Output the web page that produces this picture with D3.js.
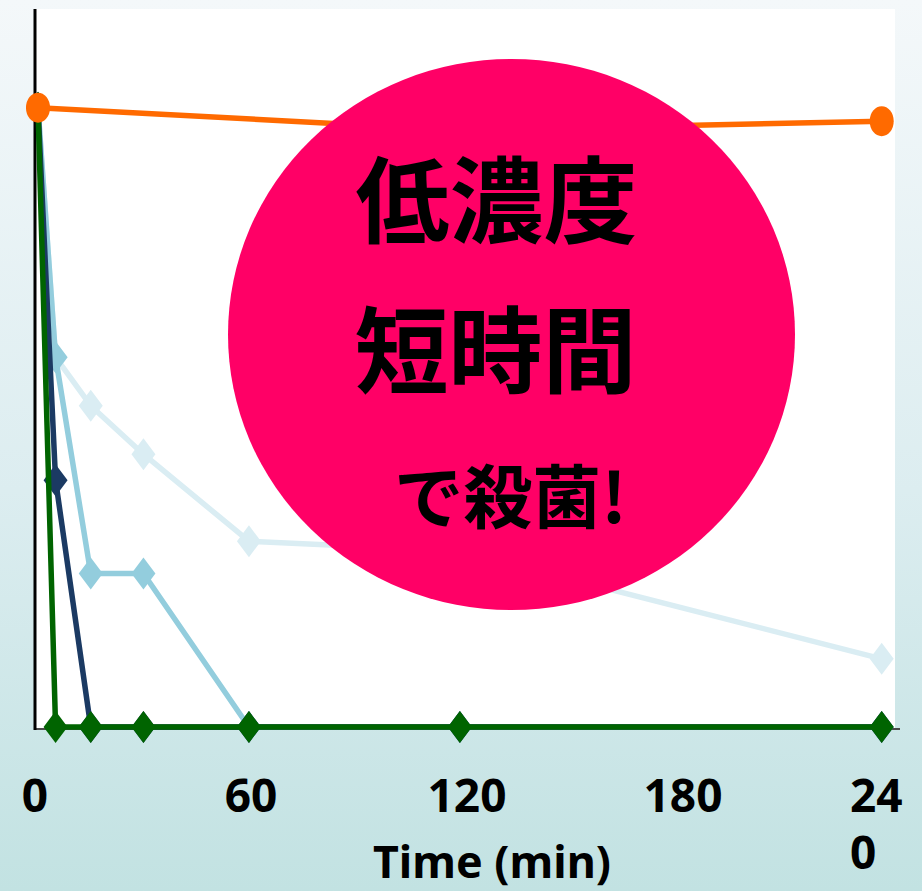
<!DOCTYPE html>
<html>
<head>
<meta charset="utf-8">
<script src="https://cdn.jsdelivr.net/npm/d3@7/dist/d3.min.js"></script>
<style>
  html, body { margin: 0; padding: 0; }
  body { width: 922px; height: 891px; overflow: hidden; }
</style>
</head>
<body>
<svg id="chart" width="922" height="891"></svg>
<script>
// ---- data (time in minutes, value in log units) ----
const xTicks = [0, 60, 120, 180, 240];
const xTickLabels = ["0", "60", "120", "180", "240"];
const xAxisTitle = "Time (min)";

const paleTimes   = [0, 5, 15, 30, 60, 120, 240];
const paleValues  = [6.90, 4.12, 3.58, 3.04, 2.07, 1.96, 0.76];

const mediumTimes  = [0, 5, 15, 30, 60, 120, 240];
const mediumValues = [6.90, 4.12, 1.71, 1.71, 0, 0, 0];

const navyTimes  = [0, 5, 15, 30, 60, 120, 240];
const navyValues = [6.90, 2.75, 0, 0, 0, 0, 0];

const greenTimes  = [0, 5, 15, 30, 60, 120, 240];
const greenValues = [6.90, 0, 0, 0, 0, 0, 0];

const orangeTimes  = [0, 120, 240];
const orangeValues = [6.90, 6.65, 6.75];

const bubbleLines = ["低濃度", "短時間", "で殺菌!"];

// ---- drawing ----
const svg = d3.select("#chart");
const W = 922, H = 891;

const defs = svg.append("defs");
const grad = defs.append("linearGradient").attr("id", "bg")
  .attr("x1", 0).attr("y1", 0).attr("x2", 0).attr("y2", 1);
grad.append("stop").attr("offset", "0%").attr("stop-color", "#f4f8fa");
grad.append("stop").attr("offset", "55%").attr("stop-color", "#dcedf0");
grad.append("stop").attr("offset", "100%").attr("stop-color", "#c2e2e2");

svg.append("rect").attr("width", W).attr("height", H).attr("fill", "url(#bg)");

const plot = { left: 36, right: 895, top: 9, bottom: 728 };
const x = d3.scaleLinear().domain([0, 240]).range([38, 881.7]);
const y = d3.scaleLinear().domain([0, 8]).range([727, 9]);

// plot area
svg.append("rect")
  .attr("x", plot.left).attr("y", plot.top)
  .attr("width", plot.right - plot.left).attr("height", plot.bottom - plot.top)
  .attr("fill", "#ffffff");

// axes lines
svg.append("line")
  .attr("x1", 35).attr("x2", 900).attr("y1", 729).attr("y2", 729)
  .attr("stroke", "#4a4a4a").attr("stroke-width", 2);
svg.append("line")
  .attr("x1", 35).attr("x2", 35).attr("y1", 9).attr("y2", 730)
  .attr("stroke", "#000").attr("stroke-width", 3);

const series = [
  { t: paleTimes, v: paleValues, color: "#daedf3", marker: "diamond" },
  { t: mediumTimes, v: mediumValues, color: "#93cddd", marker: "diamond" },
  { t: navyTimes, v: navyValues, color: "#1b3a63", marker: "diamond" },
  { t: greenTimes, v: greenValues, color: "#006400", marker: "diamond" },
  { t: orangeTimes, v: orangeValues, color: "#ff6a00", marker: "circle" }
];

const line = d3.line().x(d => x(d[0])).y(d => y(d[1]));

series.forEach(s => {
  const pts = s.t.map((t, i) => [t, s.v[i]]);
  const g = svg.append("g");
  g.append("path").datum(pts)
    .attr("d", line)
    .attr("fill", "none")
    .attr("stroke", s.color)
    .attr("stroke-width", 5.5)
    .attr("stroke-linejoin", "round");
  if (s.marker === "diamond") {
    g.selectAll("path.m").data(pts).enter().append("path")
      .attr("class", "m")
      .attr("d", d => {
        const cx = x(d[0]), cy = y(d[1]);
        return `M${cx},${cy - 16}L${cx + 12},${cy}L${cx},${cy + 16}L${cx - 12},${cy}Z`;
      })
      .attr("fill", s.color);
  } else {
    g.selectAll("ellipse").data(pts).enter().append("ellipse")
      .attr("cx", d => x(d[0])).attr("cy", d => y(d[1]))
      .attr("rx", 12).attr("ry", 15)
      .attr("fill", s.color);
  }
});

// x tick labels
const lx = d3.scaleLinear().domain([0, 240]).range([35, 899]);
const tickFont = "'Noto Sans', 'Open Sans', sans-serif";
xTicks.forEach((v, i) => {
  const label = xTickLabels[i];
  if (i === xTicks.length - 1) {
    // wrapped label (box too narrow)
    const t = svg.append("text")
      .attr("font-family", tickFont).attr("font-weight", 700)
      .attr("font-size", 46).attr("fill", "#000");
    t.append("tspan").attr("x", lx(v) - 49).attr("y", 812).text(label.slice(0, 2));
    t.append("tspan").attr("x", lx(v) - 49).attr("y", 869).text(label.slice(2));
  } else {
    svg.append("text")
      .attr("x", lx(v)).attr("y", 812)
      .attr("text-anchor", "middle")
      .attr("font-family", tickFont).attr("font-weight", 700)
      .attr("font-size", 46).attr("fill", "#000")
      .text(label);
  }
});

svg.append("text")
  .attr("x", 492).attr("y", 878)
  .attr("text-anchor", "middle")
  .attr("font-family", tickFont).attr("font-weight", 700)
  .attr("font-size", 44).attr("fill", "#000")
  .attr("textLength", 238).attr("lengthAdjust", "spacingAndGlyphs")
  .text(xAxisTitle);

// bubble
svg.append("ellipse")
  .attr("cx", 511.5).attr("cy", 334.5)
  .attr("rx", 283.5).attr("ry", 275.5)
  .attr("fill", "#ff0066");

const cjk = "'Noto Sans CJK JP', 'Noto Sans CJK SC', sans-serif";
const bubbleSpec = [
  { x: 496.5, y: 235.5, size: 94 },
  { x: 495.5, y: 385.5, size: 94 },
  { x: 510.5, y: 522.5, size: 69 }
];
bubbleLines.forEach((txt, i) => {
  svg.append("text")
    .attr("x", bubbleSpec[i].x).attr("y", bubbleSpec[i].y)
    .attr("text-anchor", "middle")
    .attr("font-family", cjk).attr("font-weight", 700)
    .attr("font-size", bubbleSpec[i].size).attr("fill", "#000")
    .text(txt);
});
</script>
</body>
</html>
